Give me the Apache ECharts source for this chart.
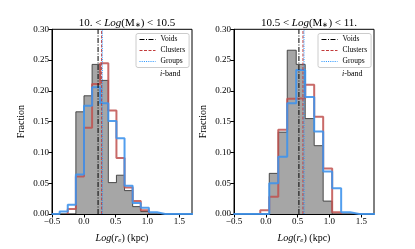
<!DOCTYPE html>
<html><head><meta charset="utf-8">
<script src="https://cdn.jsdelivr.net/npm/echarts@6/dist/echarts.min.js"></script>
<style>html,body{margin:0;padding:0;background:#fff}#c{width:415px;height:249px}</style>
</head><body><div id="c"></div>
<script>
// ---- data ----
const xTicks = [-0.5, 0.0, 0.5, 1.0, 1.5];
const yTicks = [0.00, 0.05, 0.10, 0.15, 0.20, 0.25, 0.30];
const panelTitles = ['10. < Log(M*) < 10.5', '10.5 < Log(M*) < 11.'];
const legendNames = ['Voids', 'Clusters', 'Groups'];

// left panel (10 < logM < 10.5): bin edges and fractions (null = no bin drawn)
const leftEdges = [-0.5075, -0.38, -0.2525, -0.125, 0.0025, 0.13, 0.2575, 0.385, 0.5125, 0.64, 0.7675, 0.895, 1.0225, 1.15, 1.2775, 1.405, 1.5325, 1.66, 1.7875];
const leftVoids    = [null, null, null, 0.166, 0.192, 0.243, 0.217, 0.051, 0.063, 0.038, 0.012, 0.004, null, null, null, null, null, null];
const leftClusters = [null, null, 0.008, 0.061, 0.140, 0.211, 0.245, 0.168, 0.091, 0.043, 0.021, 0.006, null, null, null, null, null, null];
const leftGroups   = [0, 0.004, 0.015, 0.064, 0.176, 0.206, 0.180, 0.151, 0.123, 0.046, 0.018, 0.010, 0.003, 0, 0, 0, 0, 0];
const leftMedians  = [0.224, 0.28, 0.29];   // Voids, Clusters, Groups

// right panel (10.5 < logM < 11)
const rightEdges = [-0.5106, -0.3694, -0.2282, -0.087, 0.0542, 0.1954, 0.3366, 0.4778, 0.619, 0.7602, 0.9014, 1.0426, 1.1838, 1.325, 1.4662, 1.6074, 1.7486];
const rightVoids    = [null, null, null, null, 0.066, 0.133, 0.266, 0.243, 0.155, 0.111, 0.021, null, null, null, null, null];
const rightClusters = [null, null, null, 0.006, 0.028, 0.137, 0.187, 0.188, 0.210, 0.158, 0.074, 0.003, null, null, null, null];
const rightGroups   = [0, 0, 0, 0, 0.050, 0.093, 0.180, 0.234, 0.190, 0.134, 0.069, 0.042, 0.003, 0, 0, 0];
const rightMedians  = [0.52, 0.584, 0.60];

// ---- build ----
const FONT = 'Liberation Serif';
function stepData(edges, vals) {
  let first = -1, last = -1;
  vals.forEach((v, i) => { if (v !== null) { if (first < 0) first = i; last = i; } });
  const pts = [[edges[first], 0]];
  for (let i = first; i <= last; i++) pts.push([edges[i], vals[i]]);
  pts.push([edges[last + 1], 0]);
  return pts;
}
const colors = { clusters: '#c0504d', groups: '#3f93ec' };
const grids = [
  { left: 52, top: 29.3, width: 140, height: 191.7 },
  { left: 234, top: 29.3, width: 140, height: 191.7 }
];
const panels = [
  { edges: leftEdges, v: leftVoids, c: leftClusters, g: leftGroups, m: leftMedians },
  { edges: rightEdges, v: rightVoids, c: rightClusters, g: rightGroups, m: rightMedians }
];
const xAxes = [], yAxes = [], series = [], titles = [], legends = [], graphics = [];
const titleRich = {
  a: { fontFamily: FONT, fontSize: 11, fontWeight: 'normal', color: '#000' },
  i: { fontFamily: FONT, fontSize: 11, fontWeight: 'normal', fontStyle: 'italic', color: '#000' },
  s: { fontFamily: FONT, fontSize: 7, fontWeight: 'normal', color: '#000', padding: [5, 0, 0, 0] }
};
function titleText(t) {
  const m = t.match(/^(.*)Log\(M\*\)(.*)$/);
  return '{a|' + m[1] + '}{i|Log}{a|(M}{s|∗}{a|)' + m[2] + '}';
}
const vStyles = [
  { color: '#000', type: [5, 1.5, 1, 1.5] },
  { color: '#c23b3b', type: [3, 1.5] },
  { color: '#1e90ff', type: [1, 1.2] }
];
panels.forEach((p, k) => {
  const g = grids[k];
  xAxes.push({
    gridIndex: k, type: 'value', min: xTicks[0], max: 1.7, interval: 0.5,
    axisLine: { show: true, onZero: false, lineStyle: { color: '#000', width: 1 } },
    axisTick: { show: true, inside: false, length: 3.5, lineStyle: { color: '#000' } },
    axisLabel: { showMaxLabel: false, fontFamily: FONT, fontSize: 9, color: '#000', margin: 3,
      formatter: v => (v < 0 ? '\u2212' : '') + Math.abs(v).toFixed(1) },
    splitLine: { show: false },
    name: '{i|Log}{a|(}{i|r}{s|e}{a|) (kpc)}', nameLocation: 'middle', nameGap: 18,
    nameTextStyle: { rich: {
      a: { fontFamily: FONT, fontSize: 10, color: '#000' },
      i: { fontFamily: FONT, fontSize: 10, fontStyle: 'italic', color: '#000' },
      s: { fontFamily: FONT, fontSize: 7, fontStyle: 'italic', color: '#000', padding: [5, 0, 0, 0] } } }
  });
  yAxes.push({
    gridIndex: k, type: 'value', min: 0, max: 0.30, interval: 0.05,
    axisLine: { show: true, onZero: false, lineStyle: { color: '#000', width: 1 } },
    axisTick: { show: true, inside: false, length: 3.5, lineStyle: { color: '#000' } },
    axisLabel: { fontFamily: FONT, fontSize: 9, color: '#000', margin: 3, formatter: v => v.toFixed(2) },
    splitLine: { show: false },
    name: 'Fraction', nameLocation: 'middle', nameGap: 26,
    nameTextStyle: { fontFamily: FONT, fontSize: 10, color: '#000' }
  });
  series.push({ type: 'line', name: 'voidsHist', xAxisIndex: k, yAxisIndex: k, step: 'end', symbol: 'none',
    data: stepData(p.edges, p.v), lineStyle: { color: '#333', width: 1, opacity: 0.85 },
    areaStyle: { color: '#a6a6a6', opacity: 1 }, z: 2, silent: true });
  series.push({ type: 'line', name: 'clustersHist', xAxisIndex: k, yAxisIndex: k, step: 'end', symbol: 'none',
    data: stepData(p.edges, p.c), lineStyle: { color: colors.clusters, width: 2, opacity: 0.85 }, z: 3, silent: true });
  series.push({ type: 'line', name: 'groupsHist', xAxisIndex: k, yAxisIndex: k, step: 'end', symbol: 'none',
    data: stepData(p.edges, p.g), lineStyle: { color: colors.groups, width: 2, opacity: 0.9 }, z: 4, silent: true });
  legendNames.forEach((n, j) => {
    series.push({ type: 'line', name: n, xAxisIndex: k, yAxisIndex: k, symbol: 'none', showSymbol: false,
      data: [[p.m[j], 0], [p.m[j], 0.30]],
      lineStyle: { color: vStyles[j].color, width: 1, type: vStyles[j].type }, itemStyle: { color: vStyles[j].color }, z: 5 });
  });
  titles.push({ text: titleText(panelTitles[k]), left: g.left + g.width / 2, top: 12, textAlign: 'center',
    textStyle: { fontWeight: 'normal', rich: titleRich } });
  legends.push({ data: legendNames, orient: 'vertical', left: g.left + 84, top: 33.5,
    itemWidth: 16, itemHeight: 8, itemGap: 3, padding: [2, 4, 2, 3],
    itemStyle: { opacity: 0 }, lineStyle: { width: 1 },
    backgroundColor: '#fff', borderColor: '#cccccc', borderWidth: 1, borderRadius: 2,
    textStyle: { fontFamily: FONT, fontSize: 7.5, color: '#000' }, selectedMode: false });
  graphics.push({ type: 'text', left: g.left + 108, top: 70,
    style: { text: '{i|i}{a|-band}', rich: {
      i: { fontFamily: FONT, fontSize: 8, fontStyle: 'italic', fill: '#000' },
      a: { fontFamily: FONT, fontSize: 8, fill: '#000' } } } });
});
const chart = echarts.init(document.getElementById('c'), null, { renderer: 'canvas' });
chart.setOption({
  animation: false,
  backgroundColor: '#fff',
  title: titles,
  legend: legends,
  grid: grids.map(g => Object.assign({ show: true, borderColor: '#000', borderWidth: 1, backgroundColor: 'transparent' }, g)),
  xAxis: xAxes, yAxis: yAxes, series: series, graphic: graphics
});
</script></body></html>
